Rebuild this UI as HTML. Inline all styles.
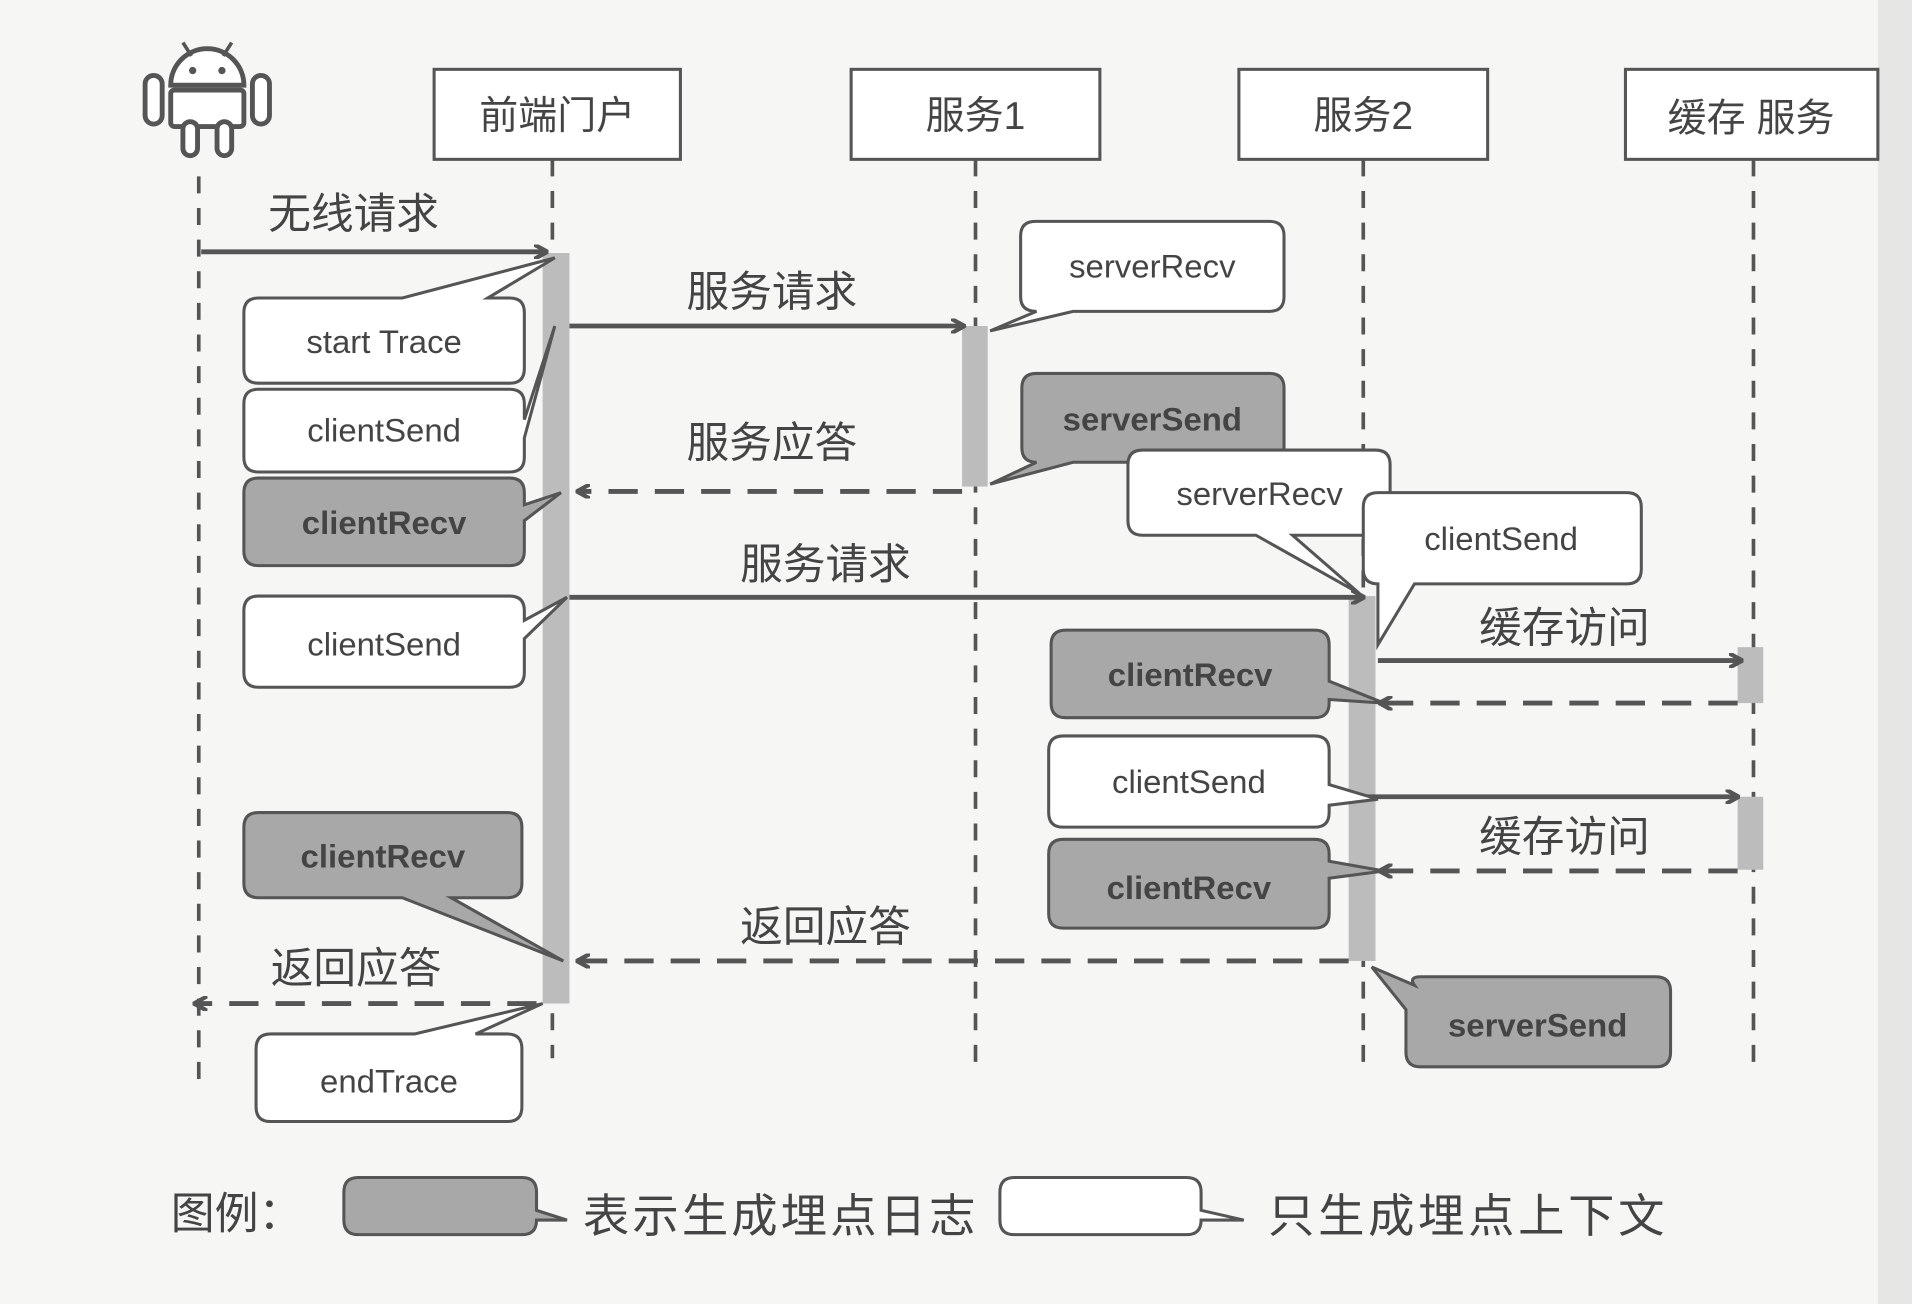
<!DOCTYPE html>
<html><head><meta charset="utf-8"><style>
html,body{margin:0;padding:0;background:#f6f6f4;}
svg{display:block;}
text{font-family:"Liberation Sans","Noto Sans CJK SC",sans-serif;fill:#444;}
</style></head><body>
<svg width="1912" height="1304" viewBox="0 0 1568 1072" preserveAspectRatio="none" xmlns="http://www.w3.org/2000/svg">
<defs>
<marker id="a" markerWidth="12" markerHeight="12" refX="10" refY="6" orient="auto" markerUnits="userSpaceOnUse"><path d="M0,0 L11,6 L0,12" fill="none" stroke="#555" stroke-width="3.5"/></marker>
</defs>
<rect width="1568" height="1072" fill="#f6f6f4"/>
<rect x="1540" y="0" width="28" height="1072" fill="#e6e6e4"/>
<g fill="#fff" stroke="#555" stroke-width="4">
<path d="M140,70 A30,30 0 0 1 200,70 Z"/>
<rect x="140" y="74" width="60" height="30" rx="3"/>
<rect x="119" y="62" width="14" height="40" rx="7"/>
<rect x="207" y="62" width="14" height="40" rx="7"/>
<rect x="150" y="100" width="12" height="28" rx="6"/>
<rect x="178" y="100" width="12" height="28" rx="6"/>
</g>
<circle cx="158" cy="58" r="3" fill="#555"/><circle cx="182" cy="58" r="3" fill="#555"/>
<line x1="150" y1="35" x2="157" y2="46" stroke="#555" stroke-width="3"/>
<line x1="190" y1="35" x2="183" y2="46" stroke="#555" stroke-width="3"/>
<g fill="#fff" stroke="#555" stroke-width="2.5">
<rect x="356" y="57" width="202" height="74"/>
<rect x="698" y="57" width="204" height="74"/>
<rect x="1016" y="57" width="204" height="74"/>
<rect x="1333" y="57" width="207" height="74"/>
</g>
<g font-size="32" text-anchor="middle">
<text x="457" y="106">前端门户</text>
<text x="800" y="106">服务1</text>
<text x="1118" y="106">服务2</text>
<text x="1436" y="108">缓存 服务</text>
</g>
<g stroke="#555" stroke-width="3" stroke-dasharray="14,12">
<line x1="163" y1="145" x2="163" y2="890"/>
<line x1="453" y1="131" x2="453" y2="870"/>
<line x1="800" y1="131" x2="800" y2="880"/>
<line x1="1118" y1="131" x2="1118" y2="880"/>
<line x1="1438" y1="131" x2="1438" y2="880"/>
</g>
<g fill="#bcbcbc">
<rect x="445" y="208" width="22" height="617"/>
<rect x="789" y="268" width="21" height="132"/>
<rect x="1106" y="490" width="22" height="300"/>
<rect x="1425" y="532" width="21" height="46"/>
<rect x="1425" y="655" width="21" height="60"/>
</g>
<g stroke="#555" stroke-width="4" fill="none" marker-end="url(#a)">
<line x1="165" y1="207" x2="448" y2="207"/>
<line x1="467" y1="268" x2="790" y2="268"/>
<line x1="789" y1="404" x2="474" y2="404" stroke-dasharray="24,14"/>
<line x1="467" y1="491" x2="1118" y2="491"/>
<line x1="1130" y1="543" x2="1428" y2="543"/>
<line x1="1425" y1="578" x2="1132" y2="578" stroke-dasharray="24,14"/>
<line x1="1090" y1="655" x2="1425" y2="655"/>
<line x1="1425" y1="716" x2="1132" y2="716" stroke-dasharray="24,14"/>
<line x1="1106" y1="790" x2="474" y2="790" stroke-dasharray="24,14"/>
<line x1="440" y1="825" x2="160" y2="825" stroke-dasharray="24,14"/>
</g>
<g font-size="35" text-anchor="middle">
<text x="290" y="188">无线请求</text>
<text x="633" y="252">服务请求</text>
<text x="633" y="376">服务应答</text>
<text x="677" y="476">服务请求</text>
<text x="1283" y="528">缓存访问</text>
<text x="1283" y="700">缓存访问</text>
<text x="677" y="774">返回应答</text>
<text x="292" y="808">返回应答</text>
</g>
<g stroke="#555" stroke-width="2.5">
<path fill="#fff" d="M212,245 H330 L455,212 L400,245 H418 Q430,245 430,257 V303 Q430,315 418,315 H212 Q200,315 200,303 V257 Q200,245 212,245 Z"/>
<path fill="#fff" d="M212,320 H418 Q430,320 430,332 V345 L455,268 L430,360 V376 Q430,388 418,388 H212 Q200,388 200,376 V332 Q200,320 212,320 Z"/>
<path fill="#a8a8a8" d="M212,393 H418 Q430,393 430,405 V415 L460,405 L430,428 V453 Q430,465 418,465 H212 Q200,465 200,453 V405 Q200,393 212,393 Z"/>
<path fill="#fff" d="M212,490 H418 Q430,490 430,502 V510 L465,491 L430,525 V553 Q430,565 418,565 H212 Q200,565 200,553 V502 Q200,490 212,490 Z"/>
<path fill="#a8a8a8" d="M212,668 H416 Q428,668 428,680 V726 Q428,738 416,738 H370 L462,790 L330,738 H212 Q200,738 200,726 V680 Q200,668 212,668 Z"/>
<path fill="#fff" d="M222,850 H340 L445,825 L390,850 H416 Q428,850 428,862 V910 Q428,922 416,922 H222 Q210,922 210,910 V862 Q210,850 222,850 Z"/>
<path fill="#fff" d="M849,182 H1041 Q1053,182 1053,194 V244 Q1053,256 1041,256 H880 L812,272 L850,256 Q837,256 837,244 V194 Q837,182 849,182 Z"/>
<path fill="#a8a8a8" d="M850,307 H1041 Q1053,307 1053,319 V368 Q1053,380 1041,380 H880 L812,398 L850,380 Q838,380 838,368 V319 Q838,307 850,307 Z"/>
<path fill="#fff" d="M937,370 H1128 Q1140,370 1140,382 V428 Q1140,440 1128,440 H1060 L1115,488 L1030,440 H937 Q925,440 925,428 V382 Q925,370 937,370 Z"/>
<path fill="#fff" d="M1130,405 H1334 Q1346,405 1346,417 V468 Q1346,480 1334,480 H1160 L1130,530 L1130,480 Q1118,480 1118,468 V417 Q1118,405 1130,405 Z"/>
<path fill="#a8a8a8" d="M874,518 H1078 Q1090,518 1090,530 V560 L1135,578 L1090,575 V578 Q1090,590 1078,590 H874 Q862,590 862,578 V530 Q862,518 874,518 Z"/>
<path fill="#fff" d="M872,605 H1078 Q1090,605 1090,617 V645 L1130,657 L1090,662 V668 Q1090,680 1078,680 H872 Q860,680 860,668 V617 Q860,605 872,605 Z"/>
<path fill="#a8a8a8" d="M872,690 H1078 Q1090,690 1090,702 V708 L1135,716 L1090,722 V751 Q1090,763 1078,763 H872 Q860,763 860,751 V702 Q860,690 872,690 Z"/>
<path fill="#a8a8a8" d="M1165,803 H1358 Q1370,803 1370,815 V865 Q1370,877 1358,877 H1165 Q1153,877 1153,865 V830 L1125,795 L1160,810 Q1155,803 1165,803 Z"/>
</g>
<g font-size="27" text-anchor="middle">
<text x="315" y="290">start Trace</text>
<text x="315" y="363">clientSend</text>
<text x="315" y="439" font-weight="bold" fill="#555">clientRecv</text>
<text x="315" y="539">clientSend</text>
<text x="314" y="713" font-weight="bold" fill="#555">clientRecv</text>
<text x="319" y="898">endTrace</text>
<text x="945" y="228">serverRecv</text>
<text x="945" y="354" font-weight="bold" fill="#555">serverSend</text>
<text x="1033" y="415">serverRecv</text>
<text x="1231" y="452">clientSend</text>
<text x="976" y="564" font-weight="bold" fill="#555">clientRecv</text>
<text x="975" y="652">clientSend</text>
<text x="975" y="739" font-weight="bold" fill="#555">clientRecv</text>
<text x="1261" y="852" font-weight="bold" fill="#555">serverSend</text>
</g>
<text x="140" y="1010" font-size="36">图例：</text>
<path fill="#a8a8a8" stroke="#555" stroke-width="2.5" d="M294,968 H428 Q440,968 440,980 V995 L465,1003 L440,1003 V1003 Q440,1015 428,1015 H294 Q282,1015 282,1003 V980 Q282,968 294,968 Z"/>
<text x="478" y="1013" font-size="38" textLength="322">表示生成埋点日志</text>
<path fill="#fff" stroke="#555" stroke-width="2.5" d="M832,968 H973 Q985,968 985,980 V995 L1020,1003 L985,1003 Q985,1015 973,1015 H832 Q820,1015 820,1003 V980 Q820,968 832,968 Z"/>
<text x="1040" y="1013" font-size="38" textLength="325">只生成埋点上下文</text>
</svg>
</body></html>
